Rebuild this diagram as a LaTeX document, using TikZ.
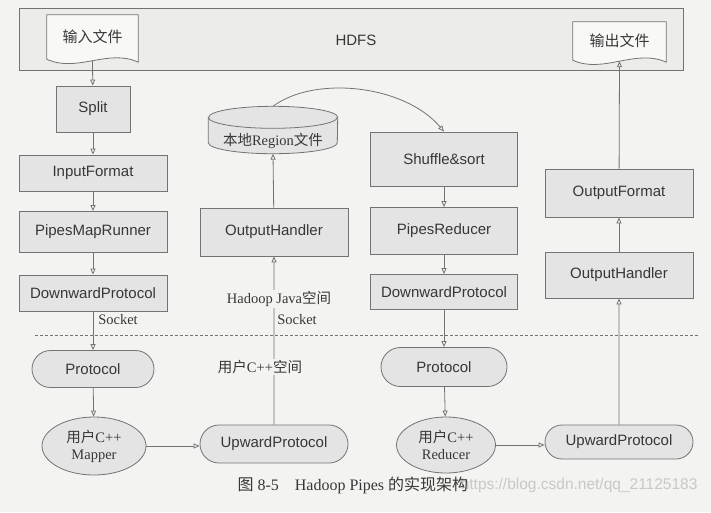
\documentclass[tikz,border=0pt]{standalone}
\usepackage{fontspec}
\setmainfont{Liberation Serif}
\setsansfont{Liberation Sans}
\newfontfamily\cjk{Noto Sans CJK SC}
\usetikzlibrary{arrows.meta, calc, shapes.geometric, shapes.misc}
\definecolor{latar}{RGB}{243,243,241}
\definecolor{kotak}{RGB}{228,228,228}
\definecolor{hdfsbg}{RGB}{236,236,235}
\definecolor{garis}{RGB}{115,115,115}
\definecolor{tinta}{RGB}{55,55,55}
\definecolor{tanda}{RGB}{200,200,200}

\begin{document}
\begin{tikzpicture}[
    x=1pt, y=-1pt,
    font=\sffamily\fontsize{15}{18}\selectfont, text=tinta,
    blok/.style={draw=garis, line width=0.8pt, fill=kotak, inner sep=0pt,
                 minimum width=148pt, align=center},
    pil/.style={blok, rounded rectangle},
    bulat/.style={draw=garis, line width=0.8pt, fill=kotak, ellipse, inner sep=0pt,
                  align=center, font=\rmfamily\fontsize{14.5}{17}\selectfont},
    dok/.style={inner sep=0pt, minimum width=91pt, minimum height=44pt},
    dokgaris/.style={draw=garis, line width=0.8pt, fill=latar!60!white},
    ket/.style={font=\rmfamily\fontsize{14.5}{17}\selectfont, fill=latar, inner sep=1pt},
    panah/.style={-{Triangle[open, length=6pt, width=5pt]}, draw=garis, line width=0.8pt}
  ]
    \fill[latar] (0,0) rectangle (711,512);
    \useasboundingbox (0,0) rectangle (711,512);

    % HDFS
    \node[blok, fill=hdfsbg, minimum width=664pt, minimum height=62pt] (hdfs) at (351,39) {};
    \node (hdfsteks) at (356,40) {HDFS};
    \node[dok] (masuk) at (92.5,37) {};
    \node[dok, minimum width=93pt, minimum height=38pt] (keluar) at (619.5,41) {};
    \draw[dokgaris] (masuk.north west) -- (masuk.north east) -- ([yshift=-3pt]masuk.south east)
      .. controls +(-30,-14) and +(30,14) .. coordinate[pos=0.5] (masukb) (masuk.south west) -- cycle;
    \draw[dokgaris] (keluar.north west) -- (keluar.north east) -- ([yshift=-2pt]keluar.south east)
      .. controls +(-30,-14) and +(30,14) .. coordinate[pos=0.5] (keluarb) (keluar.south west) -- cycle;
    \node (masukteks) at (masuk) {\cjk 输入文件};
    \node (keluarteks) at (keluar) {\cjk 输出文件};

    % map side
    \node[blok, minimum width=74pt, minimum height=46pt] (split) at (93,109) {Split};
    \node[blok, minimum height=36pt] (inform) at (93,173) {InputFormat};
    \node[blok, minimum height=41pt] (maprun) at (93,232) {PipesMapRunner};
    \node[blok, minimum height=36pt] (downkiri) at (93,293) {DownwardProtocol};
    \node[pil, minimum width=122pt, minimum height=37pt] (protokiri) at (93,369) {Protocol};
    \node[bulat, minimum width=104pt, minimum height=58pt] (mapper) at (94,446) {{\cjk 用户}C++\\Mapper};
    \node[pil, minimum height=38pt] (upkiri) at (274,444) {UpwardProtocol};

    % middle
    \node[blok, minimum height=48pt] (handkiri) at (274,232) {OutputHandler};
    \node[inner sep=0pt, minimum width=129pt, minimum height=47pt] (lokal) at (273,130) {};
    \draw[draw=garis, line width=0.8pt, fill=kotak]
      ([yshift=-11pt]lokal.north west) -- ([yshift=11pt]lokal.south west)
      arc[start angle=180, end angle=360, x radius=64.5pt, y radius=11pt]
      -- ([yshift=-11pt]lokal.north east)
      arc[start angle=0, end angle=180, x radius=64.5pt, y radius=11pt] -- cycle;
    \draw[draw=garis, line width=0.8pt] ([yshift=-11pt]lokal.north west)
      arc[start angle=180, end angle=360, x radius=64.5pt, y radius=11pt];
    \node[font=\rmfamily\fontsize{14.5}{17}\selectfont] (lokalteks) at ([yshift=-11pt]lokal.center)
      {{\cjk 本地}Region{\cjk 文件}};

    % reduce side
    \node[blok, minimum width=147pt, minimum height=54pt] (shuffle) at (444,159) {Shuffle\&sort};
    \node[blok, minimum width=147pt, minimum height=47pt] (pipered) at (444,231) {PipesReducer};
    \node[blok, minimum width=147pt, minimum height=35pt] (downkanan) at (444,292) {DownwardProtocol};
    \node[pil, minimum width=126pt, minimum height=39pt] (protokanan) at (444,367) {Protocol};
    \node[bulat, minimum width=99pt, minimum height=56pt] (reducer) at (446,445) {{\cjk 用户}C++\\Reducer};
    \node[pil, minimum height=34pt] (upkanan) at (619,442) {UpwardProtocol};
    \node[blok, minimum height=46pt] (handkanan) at (619,275) {OutputHandler};
    \node[blok, minimum height=48pt] (outform) at (619,193) {OutputFormat};

    % boundary
    \coordinate (batasa) at (35,335);
    \coordinate (batasb) at (698,335);
    \draw[garis, line width=0.7pt, dash pattern=on 3pt off 2pt] (batasa) -- (batasb);

    % connectors
    \draw[panah] (masukb) -- (split);
    \draw[panah] (split) -- (inform);
    \draw[panah] (inform) -- (maprun);
    \draw[panah] (maprun) -- (downkiri);
    \draw[panah] (downkiri) -- (protokiri);
    \draw[panah] (protokiri) -- (mapper);
    \draw[panah] (mapper.east) -- (mapper.east -| upkiri.west);
    \draw[panah] (upkiri) -- (handkiri);
    \draw[panah] (handkiri) -- (lokal.south);
    \draw[panah] (lokal.north) .. controls (315,75) and (405,85) .. (shuffle.north);
    \draw[panah] (shuffle) -- (pipered);
    \draw[panah] (pipered) -- (downkanan);
    \draw[panah] (downkanan) -- (protokanan);
    \draw[panah] (protokanan) -- (reducer);
    \draw[panah] (reducer.east) -- (reducer.east -| upkanan.west);
    \draw[panah] (upkanan) -- (handkanan);
    \draw[panah] (handkanan) -- (outform);
    \draw[panah] (outform) -- (keluarb);

    % labels
    \node[ket, fill=none] (sockkiri) at (118,320) {Socket};
    \node[ket, fill=none] (sockkanan) at (297,320) {Socket};
    \node[ket] (ruangjava) at (279,299) {Hadoop Java{\cjk 空间}};
    \node[ket] (ruangcpp) at (260,367) {{\cjk 用户}C++{\cjk 空间}};

    % caption
    \node[font=\sffamily\fontsize{15.5}{18}\selectfont, text=tanda, anchor=east] (tandaair) at (701,485)
      {https://blog.csdn.net/qq\_21125183};
    \node[font=\rmfamily\fontsize{16}{19}\selectfont, anchor=west] (judul) at (234,485)
      {{\cjk 图} 8-5\hspace{1em}Hadoop Pipes {\cjk 的实现架构}};
  \end{tikzpicture}
\end{document}
